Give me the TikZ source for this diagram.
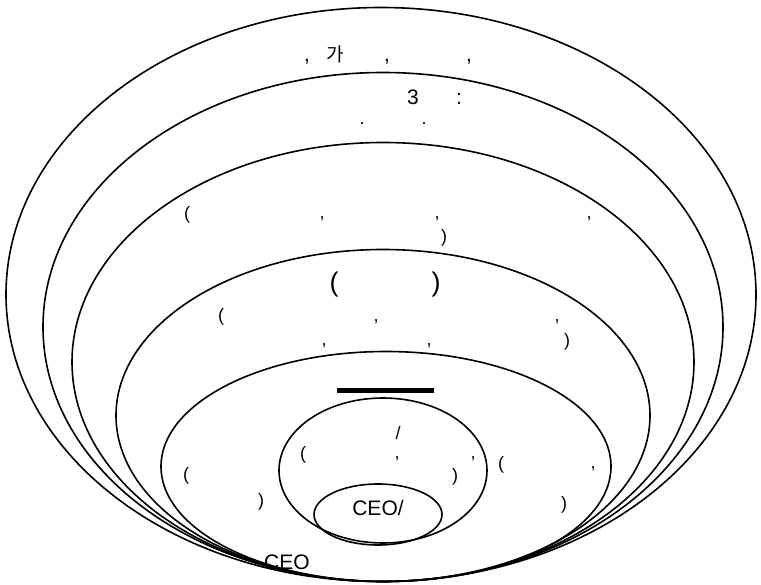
\documentclass[tikz,border=0pt]{standalone}
\usepackage{fontspec}
\setmainfont{Liberation Sans}
\newfontfamily\krfont{Noto Sans CJK KR}
\usetikzlibrary{positioning}

\begin{document}
\begin{tikzpicture}[
    x=1pt, y=-1pt,
    ring/.style={line width=1.6pt},
    punct/.style={anchor=base, inner sep=0pt, font=\fontsize{18}{20}\selectfont},
    tag/.style={anchor=base, inner sep=0pt, font=\fontsize{21}{24}\selectfont},
    bigpunct/.style={anchor=base, inner sep=0pt, font=\fontsize{27}{30}\selectfont}
]
\useasboundingbox (0,0) rectangle (761,585);

% rings, outer to inner, all touching at the bottom
\draw[ring] (381,294.5) ellipse [x radius=375pt, y radius=287pt];
\draw[ring] (383,327) ellipse [x radius=340pt, y radius=254.5pt];
\draw[ring] (383,362) ellipse [x radius=311pt, y radius=219.5pt];
\draw[ring] (383,415.5) ellipse [x radius=267pt, y radius=166pt];
\draw[ring] (386,466.5) ellipse [x radius=225pt, y radius=115pt];
\draw[ring] (383,470.5) ellipse [x radius=104pt, y radius=72.5pt];
\draw[ring] (378,514.5) ellipse [x radius=64pt, y radius=30.5pt];

% thick bar over the inner ring
\coordinate (barL) at (337,391);
\coordinate (barR) at (434,391);
\draw[line width=5pt] (barL) -- (barR);

% outer ring text
\node[tag] (c1) at (307,62) {,};
\node[tag, font=\krfont\fontsize{19}{22}\selectfont] (ga) at (335,62) {가};
\node[tag] (c2) at (387,62) {,};
\node[tag] (c3) at (469,62) {,};
\node[tag] (three) at (413,105) {3};
\node[tag] (colon) at (459,105) {:};

% scattered punctuation
\foreach \px/\py/\t [count=\i] in {
    362/125/., 424/125/.,
    187/219.5/{(}, 322/219/{,}, 437/219/{,}, 589/219/{,}, 444/243/{)},
    221/322/{(}, 376/322/{,}, 557/322/{,}, 567/347/{)}, 324/346/{,}, 429/346/{,},
    186/480/{(}, 261/506/{)}, 501/469/{(}, 593/468/{,}, 564/509/{)},
    303/460/{(}, 397/459/{,}, 473/459/{,}, 455/481/{)}}
  \node[punct] (p\i) at (\px,\py) {\t};

\node[bigpunct] (lpar) at (334,292) {(};
\node[bigpunct] (rpar) at (436,292) {)};
\node[punct] (slash) at (398,439) {/};

\node[tag] (ceoin) at (378,515.5) {CEO/};
\node[tag] (ceo) at (287,569.5) {CEO};

\end{tikzpicture}
\end{document}
